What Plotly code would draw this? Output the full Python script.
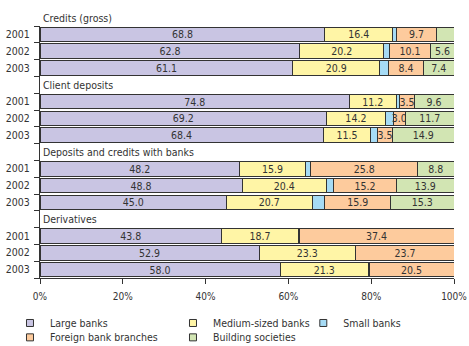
import plotly.graph_objects as go

groups = ["Credits (gross)", "Client deposits", "Deposits and credits with banks", "Derivatives"]
years = ["2001", "2002", "2003"]

large = [68.8, 62.8, 61.1, 74.8, 69.2, 68.4, 48.2, 48.8, 45.0, 43.8, 52.9, 58.0]
medium = [16.4, 20.2, 20.9, 11.2, 14.2, 11.5, 15.9, 20.4, 20.7, 18.7, 23.3, 21.3]
small = [0.9, 1.3, 2.2, 0.9, 1.9, 1.7, 1.3, 1.7, 3.1, 0.1, 0.1, 0.2]
foreign = [9.7, 10.1, 8.4, 3.5, 3.0, 3.5, 25.8, 15.2, 15.9, 37.4, 23.7, 20.5]
building = [4.2, 5.6, 7.4, 9.6, 11.7, 14.9, 8.8, 13.9, 15.3, 0.0, 0.0, 0.0]

x_ticks = [0, 20, 40, 60, 80, 100]
x_tick_labels = ["0%", "20%", "40%", "60%", "80%", "100%"]

series_names = ["Large banks", "Medium-sized banks", "Small banks",
                "Foreign bank branches", "Building societies"]
colors = ["#c9c5e3", "#fff5a6", "#a6dbf5", "#fdcb9d", "#d2e5b3"]
labelled = [True, True, False, True, True]

FONT = "DejaVu Sans Condensed, Liberation Sans Narrow, sans-serif"
FS = 10.5
FS_TICK = 10
TXT = "#333333"
EDGE = "#333333"

# slot positions: 3 years per group, one empty slot (header) between groups
ypos = []
ylab = []
for g in range(len(groups)):
    for j, yr in enumerate(years):
        ypos.append(g * 4 + j)
        ylab.append(yr)

fig = go.Figure()
all_vals = [large, medium, small, foreign, building]
for name, vals, col, lab in zip(series_names, all_vals, colors, labelled):
    if lab:
        txt = [f"{v:.1f}" if v >= 5 or (name == "Foreign bank branches" and v > 0) else "" for v in vals]
    else:
        txt = ["" for v in vals]
    fig.add_trace(go.Bar(
        x=vals, y=ypos, orientation="h", name=name,
        marker=dict(color=col, line=dict(color=EDGE, width=1)),
        text=txt, textposition="inside", insidetextanchor="middle",
        textangle=0, textfont=dict(family=FONT, size=FS, color=TXT),
        width=0.86, showlegend=False, hoverinfo="x+name",
    ))

# legend entries
legend_of = ["legend", "legend", "legend2", "legend3", "legend3"]
for name, col, lg in zip(series_names, colors, legend_of):
    fig.add_trace(go.Scatter(
        x=[None], y=[None], mode="markers", name=name, legend=lg,
        marker=dict(symbol="square", size=7, color=col, line=dict(color=EDGE, width=1)),
    ))

annotations = []
for g, gname in enumerate(groups):
    if g == 0:
        pos = dict(y=1, yref="paper", yanchor="middle", yshift=8.4)
    else:
        pos = dict(y=g * 4 - 1, yref="y", yanchor="middle")
    annotations.append(dict(
        x=0, xref="paper", text=gname, showarrow=False,
        xanchor="left", xshift=1,
        font=dict(family=FONT, size=FS, color=TXT), **pos,
    ))

legend_common = dict(orientation="h", font=dict(family=FONT, size=FS, color=TXT),
                     bgcolor="rgba(0,0,0,0)", borderwidth=0, xanchor="left", yanchor="top",
                     traceorder="normal", itemclick=False, itemdoubleclick=False)

fig.update_layout(
    width=469, height=346,
    margin=dict(l=39.5, r=14.7, t=26, b=67.6, autoexpand=False),
    barmode="stack",
    plot_bgcolor="white", paper_bgcolor="white",
    font=dict(family=FONT, size=FS, color=TXT),
    xaxis=dict(range=[0, 100], tickmode="array", tickvals=x_ticks, ticktext=x_tick_labels,
               showgrid=False, zeroline=False, showline=True, linecolor=EDGE, linewidth=1,
               ticks="outside", ticklen=5, tickcolor=EDGE, ticklabelstandoff=4,
               tickfont=dict(family=FONT, size=FS_TICK, color=TXT)),
    yaxis=dict(range=[14.5, -0.5], tickmode="array", tickvals=ypos, ticktext=ylab,
               showgrid=False, zeroline=False, showline=True, linecolor=EDGE, linewidth=1,
               ticks="", ticklabelstandoff=7,
               minor=dict(tickmode="linear", tick0=-0.5, dtick=1, ticks="outside",
                          ticklen=5, tickcolor=EDGE, showgrid=False),
               tickfont=dict(family=FONT, size=FS, color=TXT)),
    annotations=annotations,
    legend=dict(x=-0.0725, y=-0.121, entrywidth=118, **legend_common),
    legend2=dict(x=0.636, y=-0.121, **legend_common),
    legend3=dict(x=-0.0725, y=-0.178, entrywidth=118, **legend_common),
    uniformtext=dict(minsize=FS, mode="show"),
)

fig.write_html("out.html")
